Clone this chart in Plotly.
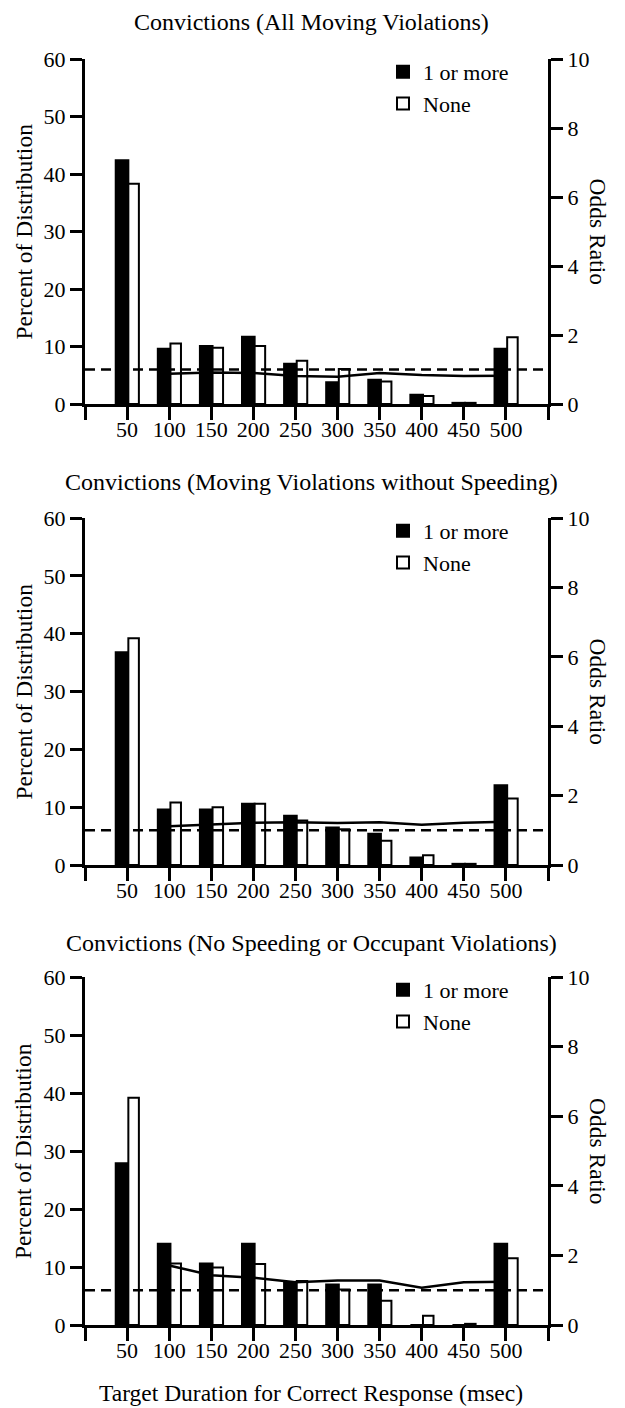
import plotly.graph_objects as go

# Target durations (msec) for correct response
durations = [50, 100, 150, 200, 250, 300, 350, 400, 450, 500]
odds_durations = [100, 150, 200, 250, 300, 350, 400, 450, 500]
tick_values = [0, 50, 100, 150, 200, 250, 300, 350, 400, 450, 500, 550]
tick_labels = ["", "50", "100", "150", "200", "250", "300", "350", "400", "450", "500", ""]

titles = [
    "Convictions (All Moving Violations)",
    "Convictions (Moving Violations without Speeding)",
    "Convictions (No Speeding or Occupant Violations)",
]

# Percent of distribution: drivers with 1 or more convictions
one_or_more_all = [42.4, 9.6, 10.1, 11.7, 7.0, 3.8, 4.2, 1.6, 0.2, 9.6]
one_or_more_no_speed = [36.8, 9.6, 9.6, 10.6, 8.5, 6.5, 5.4, 1.3, 0.2, 13.8]
one_or_more_no_occ = [27.9, 14.0, 10.6, 14.0, 7.3, 7.0, 7.0, 0.0, 0.0, 14.0]

# Percent of distribution: drivers with no convictions
none_all = [38.3, 10.5, 9.8, 10.1, 7.5, 6.1, 3.9, 1.4, 0.2, 11.6]
none_no_speed = [39.2, 10.8, 10.0, 10.6, 7.7, 6.2, 4.2, 1.7, 0.2, 11.5]
none_no_occ = [39.2, 10.6, 9.9, 10.5, 7.6, 6.1, 4.2, 1.6, 0.2, 11.5]

# Odds ratios relative to the 50 msec group
odds_all = [0.88, 0.91, 0.90, 0.81, 0.79, 0.90, 0.84, 0.81, 0.82]
odds_no_speed = [1.12, 1.17, 1.22, 1.23, 1.21, 1.23, 1.16, 1.22, 1.25]
odds_no_occ = [1.71, 1.43, 1.36, 1.23, 1.28, 1.28, 1.07, 1.23, 1.24]

reference_odds = 1.0

panels = [
    (one_or_more_all, none_all, odds_all),
    (one_or_more_no_speed, none_no_speed, odds_no_speed),
    (one_or_more_no_occ, none_no_occ, odds_no_occ),
]

W, H = 625, 1408
FONT = "Liberation Serif"
x_dom = [85 / W, 548 / W]
panel_px = [(59, 404), (518, 865), (977, 1325)]  # (top, bottom) in pixels
title_px = [22, 482, 943]


def serif(size):
    return dict(family=FONT, size=size, color="black")


fig = go.Figure()
layout = dict(
    template="none",
    width=W, height=H,
    margin=dict(l=0, r=0, t=0, b=0),
    paper_bgcolor="white", plot_bgcolor="white",
    font=serif(22),
    showlegend=True,
    annotations=[],
)

axis_common = dict(
    showgrid=False, zeroline=False, showline=True, linewidth=3, linecolor="black",
    ticks="outside", tickwidth=3, tickcolor="black", tickfont=serif(22),
)

for i, (ones, nones, odds) in enumerate(panels):
    n = i + 1
    xa = "x" if n == 1 else f"x{n}"
    xlab = f"x{n + 3}"
    ya = "y" if n == 1 else f"y{n}"
    ya2 = f"y{n + 3}"
    leg = "legend" if n == 1 else f"legend{n}"
    top, bot = panel_px[i]
    y_dom = [1 - bot / H, 1 - top / H]

    fig.add_trace(go.Bar(
        x=durations, y=ones, xaxis=xa, yaxis=ya, name="1 or more",
        width=15, offset=-13.5,
        marker=dict(color="black", line=dict(color="black", width=2)),
        legend=leg,
    ))
    fig.add_trace(go.Bar(
        x=durations, y=nones, xaxis=xa, yaxis=ya, name="None",
        width=12.5, offset=1.5,
        marker=dict(color="white", line=dict(color="black", width=2)),
        legend=leg,
    ))
    fig.add_trace(go.Scatter(
        x=odds_durations, y=odds, xaxis=xa, yaxis=ya2, mode="lines",
        line=dict(color="black", width=2.5), showlegend=False,
    ))
    fig.add_trace(go.Scatter(
        x=[0, 550], y=[reference_odds, reference_odds], xaxis=xa, yaxis=ya2,
        mode="lines", line=dict(color="black", width=2.5, dash="10px,6px"),
        showlegend=False,
    ))

    xkey = "xaxis" if n == 1 else f"xaxis{n}"
    ykey = "yaxis" if n == 1 else f"yaxis{n}"
    # main x axis: line and long ticks, labels drawn by a companion axis
    layout[xkey] = dict(
        axis_common, domain=x_dom, anchor=ya, range=[0, 550],
        tickmode="array", tickvals=tick_values, ticklen=13, showticklabels=False,
    )
    # companion x axis carrying the tick labels closer to the line
    layout[f"xaxis{n + 3}"] = dict(
        overlaying=xa, anchor=ya, range=[0, 550], side="bottom",
        showgrid=False, zeroline=False, showline=False, ticks="",
        tickmode="array", tickvals=tick_values, ticktext=tick_labels,
        tickfont=serif(22), ticklabelstandoff=10,
    )
    layout[ykey] = dict(
        axis_common, domain=y_dom, anchor=xa, range=[0, 60],
        tickmode="array", tickvals=[0, 10, 20, 30, 40, 50, 60], ticklen=12,
    )
    layout[f"yaxis{n + 3}"] = dict(
        axis_common, overlaying=ya, anchor=xa, side="right", range=[0, 10],
        tickmode="array", tickvals=[0, 2, 4, 6, 8, 10], ticklen=12,
    )
    layout[leg] = dict(
        x=383 / W, y=1 - (top - 8) / H, xanchor="left", yanchor="top",
        bgcolor="rgba(0,0,0,0)", font=serif(22),
        tracegroupgap=0, itemclick=False,
    )
    # invisible trace so the label axis is drawn
    fig.add_trace(go.Scatter(
        x=[durations[0]], y=[ones[0]], xaxis=xlab, yaxis=ya, mode="markers",
        marker=dict(opacity=0), showlegend=False, hoverinfo="skip",
    ))

    layout["annotations"] += [
        dict(text=titles[i], x=311 / W, y=1 - title_px[i] / H, xref="paper", yref="paper",
             showarrow=False, xanchor="center", yanchor="middle", font=serif(24)),
        dict(text="Percent of Distribution", x=23 / W, y=1 - ((top + bot) / 2) / H,
             xref="paper", yref="paper", showarrow=False, textangle=-90,
             xanchor="center", yanchor="middle", font=serif(23.5)),
        dict(text="Odds Ratio", x=598 / W, y=1 - ((top + bot) / 2) / H,
             xref="paper", yref="paper", showarrow=False, textangle=90,
             xanchor="center", yanchor="middle", font=serif(23.5)),
    ]

layout["annotations"].append(dict(
    text="Target Duration for Correct Response (msec)", x=311 / W, y=1 - 1393 / H,
    xref="paper", yref="paper", showarrow=False, xanchor="center", yanchor="middle",
    font=serif(23.5),
))

fig.update_layout(**layout)
fig.write_html("out.html")
